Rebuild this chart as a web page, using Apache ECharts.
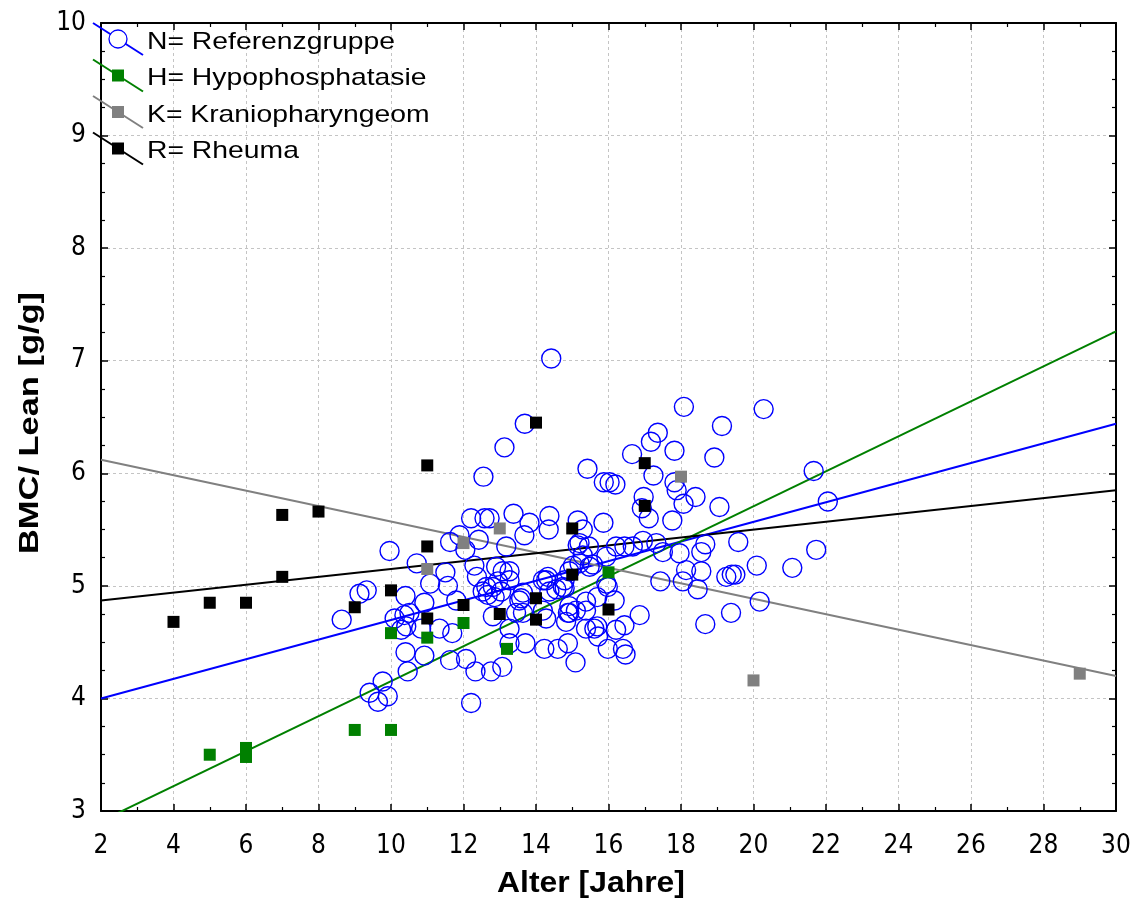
<!DOCTYPE html>
<html>
<head>
<meta charset="utf-8">
<script src="https://cdn.jsdelivr.net/npm/echarts@6/dist/echarts.min.js"></script>
<style>
  html, body { margin: 0; padding: 0; background: #ffffff; }
  #chart { width: 1139px; height: 913px; }
</style>
</head>
<body>
<div id="chart"></div>
<script>
// Axis ranges and titles
const xTitle = 'Alter [Jahre]';
const yTitle = 'BMC/ Lean [g/g]';
const xRange = [2, 30];
const yRange = [3, 10];

// Group labels (legend order)
const groupLabels = ['N= Referenzgruppe', 'H= Hypophosphatasie', 'K= Kraniopharyngeom', 'R= Rheuma'];
const groupColors = ['#0000ff', '#008000', '#808080', '#000000'];

// N: reference group [age, BMC/lean]
const referenzgruppe = [
  [14.42, 7.02], [18.08, 6.59], [20.28, 6.57], [19.13, 6.42], [13.69, 6.44], [17.36, 6.36],
  [17.17, 6.28], [13.13, 6.23], [16.65, 6.17], [17.82, 6.20], [18.92, 6.14], [15.42, 6.04],
  [15.87, 5.92], [16.03, 5.92], [16.19, 5.90], [17.24, 5.98], [17.82, 5.92], [17.88, 5.85],
  [18.40, 5.79], [18.07, 5.73], [16.97, 5.79], [16.92, 5.69], [17.11, 5.60], [17.76, 5.58],
  [19.06, 5.70], [21.66, 6.02], [22.05, 5.75], [21.73, 5.32], [19.58, 5.39], [20.09, 5.18],
  [21.07, 5.16], [20.17, 4.86], [19.38, 4.76], [18.67, 4.66], [19.25, 5.08], [19.40, 5.10],
  [19.50, 5.10], [18.56, 5.13], [18.67, 5.37], [18.56, 5.30], [18.14, 5.14], [17.96, 5.29],
  [18.05, 5.04], [18.46, 4.97], [17.43, 5.04], [17.50, 5.30], [15.86, 5.56], [15.15, 5.58],
  [15.29, 5.50], [15.20, 5.38], [15.46, 5.35], [15.94, 5.26], [16.21, 5.35], [16.44, 5.35],
  [16.67, 5.35], [16.95, 5.40], [17.32, 5.38], [15.57, 5.19], [15.94, 5.02], [15.02, 5.18],
  [14.79, 5.05], [14.88, 4.76], [15.38, 4.86], [15.69, 4.90], [16.17, 4.87], [16.86, 4.74],
  [16.44, 4.65], [16.21, 4.61], [15.61, 4.62], [15.69, 4.64], [15.71, 4.55], [15.98, 4.44],
  [16.40, 4.44], [16.47, 4.39], [14.88, 4.49], [15.09, 4.32], [12.55, 5.97], [13.38, 5.64],
  [13.82, 5.56], [14.37, 5.62], [14.35, 5.50], [13.68, 5.45], [13.18, 5.35], [12.21, 5.60],
  [12.58, 5.60], [12.72, 5.60], [11.63, 5.39], [11.89, 5.45], [12.42, 5.41], [12.05, 5.32],
  [10.71, 5.20], [11.50, 5.12], [11.08, 5.02], [11.57, 5.00], [12.30, 5.18], [12.37, 5.08],
  [12.63, 4.99], [12.81, 4.99], [12.90, 5.17], [9.96, 5.31], [9.13, 4.93], [9.33, 4.96],
  [8.64, 4.70], [9.41, 4.05], [9.77, 4.15], [9.64, 3.97], [9.91, 4.02], [10.40, 4.91],
  [10.92, 4.85], [10.51, 4.76], [10.10, 4.71], [10.42, 4.64], [10.83, 4.62], [11.34, 4.62],
  [11.69, 4.58], [11.80, 4.87], [12.53, 4.95], [12.67, 4.92], [12.86, 4.90], [12.81, 4.73],
  [10.40, 4.41], [10.92, 4.38], [10.46, 4.24], [11.63, 4.34], [12.07, 4.35], [12.33, 4.24],
  [12.76, 4.24], [12.21, 3.96], [13.04, 4.95], [13.64, 4.94], [13.59, 4.89], [14.37, 4.95],
  [14.79, 4.98], [14.92, 4.76], [14.83, 4.68], [14.28, 4.71], [13.64, 4.76], [13.27, 4.62],
  [13.71, 4.49], [14.23, 4.44], [13.27, 4.49], [13.07, 4.28], [13.08, 5.13], [13.27, 5.13],
  [13.27, 5.05], [13.54, 4.87], [13.45, 4.76], [14.28, 5.05], [14.74, 4.99], [15.15, 5.36],
  [15.29, 5.27], [14.19, 5.05], [14.33, 5.08], [14.56, 4.97], [14.92, 4.82], [14.19, 4.78],
  [14.60, 4.44], [15.10, 4.78], [15.38, 4.78], [15.38, 4.62], [15.48, 5.17], [14.92, 5.13],
  [12.95, 5.04], [15.98, 4.99], [10.28, 4.61], [10.37, 4.74], [15.20, 5.20]
];

// H: hypophosphatasia
const hypophosphatasie = [
  [5, 3.50], [6, 3.56], [6, 3.48], [9, 3.72], [10, 3.72], [10, 4.58],
  [11, 4.54], [12, 4.67], [13.2, 4.44], [16, 5.12]
];

// K: craniopharyngioma
const kraniopharyngeom = [
  [11, 5.15], [12, 5.38], [13, 5.51], [18, 5.97], [20, 4.16], [29, 4.22]
];

// R: rheumatism
const rheuma = [
  [4, 4.68], [5, 4.85], [6, 4.85], [7, 5.08], [7, 5.63], [8, 5.66], [9, 4.81],
  [10, 4.96], [11, 4.71], [11, 5.35], [11, 6.07], [12, 4.83], [13, 4.75], [14, 4.89],
  [14, 4.70], [14, 6.45], [15, 5.51], [15, 5.10], [16, 4.79], [17, 6.09], [17, 5.71]
];

// Fitted trend lines (end points)
const fitN = [[2, 4.00], [30, 6.44]];
const fitH = [[2, 2.91], [30, 7.26]];
const fitK = [[2, 6.12], [30, 4.20]];
const fitR = [[2, 4.87], [30, 5.85]];

const FONT = '"Liberation Sans", Arial, sans-serif';
const TICK_FONT = '"Liberation Sans Narrow", "DejaVu Sans Condensed", "Liberation Sans", Arial, sans-serif';

const chart = echarts.init(document.getElementById('chart'), null, { renderer: 'canvas' });

const grid = { left: 101, top: 23, right: 23, bottom: 102 };

function mainAxisCommon() {
  return {
    axisLine: { show: true, onZero: false, lineStyle: { color: '#000', width: 2 } },
    axisTick: { show: true, inside: true, length: 7, lineStyle: { color: '#000', width: 1.5 } },
    splitLine: { show: true, lineStyle: { color: '#c4c4c4', width: 1, type: [3, 3] } },
    minorSplitLine: { show: false }
  };
}

const fitLine = (name, data, color) => ({
  name: name, type: 'line', data: data, xAxisIndex: 0, yAxisIndex: 0,
  symbol: 'none', clip: true, silent: true, z: 3,
  lineStyle: { color: color, width: 2, opacity: 1 }
});

const legendGraphic = [];
groupLabels.forEach((label, i) => {
  const cy = 39 + i * 36.5;
  const cx = 118;
  legendGraphic.push({
    type: 'line', z: 100,
    shape: { x1: cx - 25, y1: cy - 16, x2: cx + 25, y2: cy + 16 },
    style: { stroke: groupColors[i], lineWidth: 2 }
  });
  if (i === 0) {
    legendGraphic.push({
      type: 'circle', z: 101, shape: { cx: cx, cy: cy, r: 9 },
      style: { fill: '#fff', stroke: groupColors[i], lineWidth: 1.3 }
    });
  } else {
    legendGraphic.push({
      type: 'rect', z: 101, shape: { x: cx - 6, y: cy - 6, width: 12, height: 12 },
      style: { fill: groupColors[i] }
    });
  }
  legendGraphic.push({
    type: 'text', z: 101, x: 147, y: cy + 3, scaleX: 1.18, originX: 0, originY: 0,
    style: { text: label, font: '24px ' + FONT, fill: '#000', textAlign: 'left', textVerticalAlign: 'middle' }
  });
});

const option = {
  backgroundColor: '#ffffff',
  animation: false,
  grid: grid,
  xAxis: [
    Object.assign(mainAxisCommon(), {
      type: 'value', min: xRange[0], max: xRange[1], interval: 2, position: 'bottom',
      minorTick: { show: true, splitNumber: 2, length: 4, lineStyle: { color: '#000', width: 1.2 } },
      axisLabel: { color: '#000', fontFamily: TICK_FONT, fontSize: 26, margin: 22 }
    }),
    {
      type: 'value', min: xRange[0], max: xRange[1], interval: 2, position: 'top',
      axisLine: { show: true, onZero: false, lineStyle: { color: '#000', width: 2 } },
      axisTick: { show: true, inside: true, length: 7, lineStyle: { color: '#000', width: 1.5 } },
      minorTick: { show: true, splitNumber: 2, length: 4, lineStyle: { color: '#000', width: 1.2 } },
      axisLabel: { show: false }, splitLine: { show: false }
    }
  ],
  yAxis: [
    Object.assign(mainAxisCommon(), {
      type: 'value', min: yRange[0], max: yRange[1], interval: 1, position: 'left',
      minorTick: { show: true, splitNumber: 4, length: 4, lineStyle: { color: '#000', width: 1.2 } },
      axisLabel: { color: '#000', fontFamily: TICK_FONT, fontSize: 26, margin: 15 }
    }),
    {
      type: 'value', min: yRange[0], max: yRange[1], interval: 1, position: 'right',
      axisLine: { show: true, onZero: false, lineStyle: { color: '#000', width: 2 } },
      axisTick: { show: true, inside: true, length: 7, lineStyle: { color: '#000', width: 1.5 } },
      minorTick: { show: true, splitNumber: 4, length: 4, lineStyle: { color: '#000', width: 1.2 } },
      axisLabel: { show: false }, splitLine: { show: false }
    }
  ],
  graphic: [
    {
      type: 'text', x: 591, y: 884, z: 50, scaleX: 1.1,
      style: { text: xTitle, font: 'bold 29px ' + FONT, fill: '#000', textAlign: 'center', textVerticalAlign: 'middle' }
    },
    {
      type: 'text', x: 30, y: 423, rotation: Math.PI / 2, z: 50, scaleX: 1.23,
      style: { text: yTitle, font: 'bold 28px ' + FONT, fill: '#000', textAlign: 'center', textVerticalAlign: 'middle' }
    }
  ].concat(legendGraphic),
  series: [
    fitLine('fitN', fitN, groupColors[0]),
    fitLine('fitH', fitH, groupColors[1]),
    fitLine('fitK', fitK, groupColors[2]),
    fitLine('fitR', fitR, groupColors[3]),
    {
      name: groupLabels[0], type: 'scatter', data: referenzgruppe, z: 4,
      symbol: 'circle', symbolSize: 19,
      itemStyle: { color: 'rgba(255,255,255,0)', borderColor: '#0000ff', borderWidth: 1.4, opacity: 1 }
    },
    {
      name: groupLabels[1], type: 'scatter', data: hypophosphatasie, z: 5,
      symbol: 'rect', symbolSize: 12, itemStyle: { color: groupColors[1], opacity: 1 }
    },
    {
      name: groupLabels[2], type: 'scatter', data: kraniopharyngeom, z: 5,
      symbol: 'rect', symbolSize: 12, itemStyle: { color: groupColors[2], opacity: 1 }
    },
    {
      name: groupLabels[3], type: 'scatter', data: rheuma, z: 5,
      symbol: 'rect', symbolSize: 12, itemStyle: { color: groupColors[3], opacity: 1 }
    }
  ]
};

chart.setOption(option);
</script>
</body>
</html>
